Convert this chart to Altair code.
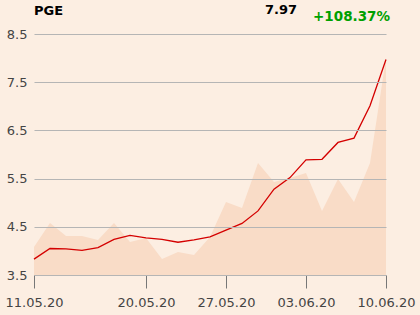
import altair as alt
import pandas as pd

dates = ["11.05.20", "12.05.20", "13.05.20", "14.05.20", "15.05.20",
         "18.05.20", "19.05.20", "20.05.20", "21.05.20", "22.05.20",
         "25.05.20", "26.05.20", "27.05.20", "28.05.20", "29.05.20",
         "01.06.20", "02.06.20", "03.06.20", "04.06.20", "05.06.20",
         "08.06.20", "09.06.20", "10.06.20"]
prices = [3.83, 4.05, 4.04, 4.01, 4.07, 4.24, 4.32, 4.27, 4.24, 4.18, 4.23, 4.29,
          4.43, 4.57, 4.83, 5.28, 5.52, 5.89, 5.90, 6.25, 6.34, 7.01, 7.97]
volumes = [28, 52, 39, 39, 35, 52, 33, 37, 16, 23, 20, 38,
           73, 67, 112, 93, 97, 102, 64, 96, 73, 112, 217]
tick_idx = [0, 7, 12, 17, 22]
y_ticks = [3.5, 4.5, 5.5, 6.5, 7.5, 8.5]
ticker = "PGE"
last_price = "7.97"
change = "+108.37%"

df = pd.DataFrame({"i": list(range(len(dates))), "date": dates,
                   "price": prices, "volume": volumes})

label_arr = "[" + ",".join("'%s'" % d for d in dates) + "]"

x = alt.X("i:Q", scale=alt.Scale(domain=[0, len(dates) - 1], nice=False, zero=False),
          axis=alt.Axis(values=tick_idx, labelExpr=label_arr + "[datum.value]",
                        grid=False, domain=True, domainColor="#999999",
                        ticks=True, tickColor="#777777", tickSize=13,
                        labelFontSize=13, labelColor="#444444", labelPadding=8,
                        labelFont="DejaVu Sans", title=None, labelFlush=False))

area = alt.Chart(df).mark_area(color="#F9DCC7", opacity=1).encode(
    x=x,
    y=alt.Y("volume:Q", scale=alt.Scale(domain=[0, 241]), axis=None),
)

line = alt.Chart(df).mark_line(color="#D40000", strokeWidth=1.3).encode(
    x=x,
    y=alt.Y("price:Q", scale=alt.Scale(domain=[3.5, 8.5], nice=False, zero=False),
            axis=alt.Axis(values=y_ticks, format=".1f", domain=False, ticks=False,
                          grid=True, gridColor="#b5b5b5", gridWidth=1,
                          labelFontSize=13, labelColor="#444444", labelPadding=7,
                          labelFont="DejaVu Sans", title=None, zindex=1)),
)

txt = pd.DataFrame({"t": [ticker], "p": [last_price], "c": [change]})
t1 = alt.Chart(txt).mark_text(align="left", baseline="alphabetic", fontSize=13,
                              fontWeight="bold", font="DejaVu Sans", color="#000000").encode(
    text="t:N", x=alt.value(0), y=alt.value(-19))
t2 = alt.Chart(txt).mark_text(align="right", baseline="alphabetic", fontSize=13,
                              fontWeight="bold", font="DejaVu Sans", color="#000000").encode(
    text="p:N", x=alt.value(263), y=alt.value(-20))
t3 = alt.Chart(txt).mark_text(align="right", baseline="alphabetic", fontSize=13.5,
                              fontWeight="bold", font="DejaVu Sans", color="#00A000").encode(
    text="c:N", x=alt.value(356), y=alt.value(-13))

chart = alt.layer(area, line, t1, t2, t3).resolve_scale(y="independent").properties(
    width=352, height=241,
    padding={"left": 34, "top": 34, "right": 34, "bottom": 40},
    autosize=alt.AutoSizeParams(type="none"),
    background="#FCEEE2",
).configure_view(stroke=None)

chart.save("out.html", embed_options={"renderer": "svg", "actions": False})
